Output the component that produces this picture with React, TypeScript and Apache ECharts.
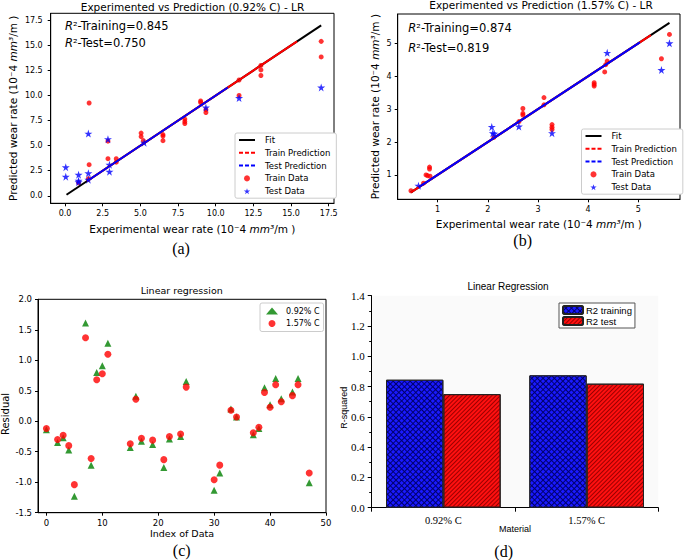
import React, { useEffect, useRef } from 'react';
import * as echarts from 'echarts';

const FONT = 'DejaVu Sans';
const SERIF = 'Liberation Serif';
const ARIAL = 'Liberation Sans';

// ---------- Panel (a): 0.92% C ----------
const titleA = 'Experimented vs Prediction (0.92% C) - LR';
const ticksA = [0, 2.5, 5, 7.5, 10, 12.5, 15, 17.5];
const fitA = [0.1, 17.0];
const trainPredA = [1.45, 15.4];
const testPredA = [1.45, 10.8];
const trainDataA = [
  [1.6, 9.25], [1.6, 3.1], [1.55, 1.7], [0.9, 1.3], [2.85, 5.45], [2.85, 3.7],
  [3.4, 3.7], [3.4, 3.35], [5.05, 6.25], [5.05, 5.9], [5.2, 5.5], [6.5, 6.1],
  [6.5, 5.95], [6.5, 5.5], [7.95, 7.65], [7.95, 7.4], [7.95, 7.2], [9.0, 9.45],
  [9.0, 9.3], [9.35, 8.6], [9.35, 8.3], [11.55, 11.55], [11.55, 10.0], [13.0, 13.0],
  [13.0, 12.55], [13.0, 12.0], [17.0, 15.4], [17.0, 13.85],
];
const testDataA = [
  [0.05, 2.85], [0.05, 1.9], [0.9, 2.1], [0.9, 1.5], [0.9, 1.35], [1.55, 6.2],
  [1.55, 2.25], [1.55, 1.6], [2.85, 5.65], [2.95, 3.1], [2.95, 2.4], [5.25, 5.3],
  [9.35, 8.8], [11.55, 9.75], [17.0, 10.8],
];

// ---------- Panel (b): 1.57% C ----------
const titleB = 'Experimented vs Prediction (1.57% C) - LR';
const ticksB = [1, 2, 3, 4, 5];
const fitB = [0.47, 5.62];
const trainPredB = [0.47, 5.25];
const testPredB = [0.62, 5.03];
const trainDataB = [
  [0.47, 0.52], [0.72, 0.75], [0.77, 1.0], [0.8, 0.98], [0.84, 1.24], [0.84, 1.18],
  [0.85, 0.96], [2.12, 2.14], [2.62, 2.62], [2.7, 3.02], [2.7, 2.87], [2.7, 2.82],
  [3.12, 3.35], [3.12, 3.13], [3.28, 2.53], [3.28, 2.45], [3.28, 2.38], [4.12, 3.8],
  [4.12, 3.75], [4.12, 3.7], [4.33, 4.13], [4.35, 4.35], [4.38, 4.46], [5.46, 4.53],
  [5.62, 5.27],
];
const testDataB = [
  [0.62, 0.67], [2.08, 2.46], [2.1, 2.27], [2.13, 2.25], [2.62, 2.47], [3.28, 2.27],
  [4.38, 4.71], [5.46, 4.19], [5.62, 5.0],
];

// ---------- Panel (c): residuals ----------
const titleC = 'Linear regression';
const ticksCx = [0, 10, 20, 30, 40, 50];
const residualIndex = [0, 2, 3, 4, 5, 7, 8, 9, 10, 11, 15, 16, 17, 19, 21, 22, 24, 25, 30, 31, 33, 34, 37, 38, 39, 40, 41, 42, 44, 45, 47];
const res092 = [-0.14, -0.35, -0.27, -0.47, -1.23, 1.61, -0.72, 0.80, 0.91, 1.28, -0.43, 0.41, -0.33, -0.38, -0.76, -0.29, -0.25, 0.65, -1.13, -0.85, 0.20, 0.07, -0.22, -0.12, 0.55, 0.27, 0.70, 0.37, 0.48, 0.70, -1.01];
const res157 = [-0.12, -0.30, -0.23, -0.40, -1.04, 1.37, -0.61, 0.68, 0.78, 1.10, -0.37, 0.36, -0.28, -0.31, -0.63, -0.25, -0.21, 0.56, -0.96, -0.72, 0.18, 0.07, -0.19, -0.10, 0.47, 0.23, 0.60, 0.32, 0.42, 0.60, -0.85];

// ---------- Panel (d): R-squared bars ----------
const titleD = 'Linear Regression';
const materials = ['0.92% C', '1.57% C'];
const r2Training = [0.845, 0.874];
const r2Test = [0.750, 0.819];

const starPath = 'path://M50,0 L61.2,34.5 L97.6,34.5 L68.2,55.9 L79.4,90.5 L50,69.1 L20.6,90.5 L31.8,55.9 L2.4,34.5 L38.8,34.5 Z';

const RED = '#ff0000';
const BLUE = '#0000ff';
const GREEN = '#008000';

const unitName = (prefix: string) => `{n|${prefix} (10⁻4 }{i|mm³}{n|/m )}`;
const nameStyle = (size: number) => ({
  color: '#000', fontFamily: FONT, fontSize: size,
  rich: {
    n: { color: '#000', fontFamily: FONT, fontSize: size },
    i: { color: '#000', fontFamily: FONT, fontSize: size, fontStyle: 'italic' },
  },
});

const mplAxis = (gridIndex: number, min: number, max: number, ticks: number[], fmt: (v: number) => string, extra: any = {}) => ({
  type: 'value',
  gridIndex,
  min,
  max,
  nameMoveOverlap: false,
  axisLine: { show: true, onZero: false, lineStyle: { color: '#000', width: 1 } },
  axisTick: { show: true, inside: false, length: 3, lineStyle: { color: '#000', width: 1 }, customValues: ticks },
  axisLabel: { show: true, customValues: ticks, formatter: fmt, color: '#000', fontFamily: FONT, fontSize: 8, margin: 6 },
  splitLine: { show: false },
  ...extra,
});

const txt = (x: number, y: number, text: string, font: string, align = 'center', rich?: any) => ({
  type: 'text',
  x,
  y,
  silent: true,
  style: {
    text,
    font,
    fill: '#000',
    align,
    verticalAlign: 'middle',
    textAlign: align,
    textVerticalAlign: 'middle',
    ...(rich ? { rich } : {}),
  },
});

const r2Rich = {
  i: { font: `italic 11.5px "${FONT}"`, fill: '#000', color: '#000' },
  n: { font: `11.5px "${FONT}"`, fill: '#000', color: '#000' },
};

const lineLegend = (left: number, top: number) => ({
  left,
  top,
  orient: 'vertical',
  backgroundColor: '#fff',
  borderColor: '#cccccc',
  borderWidth: 1,
  borderRadius: 2,
  padding: [2, 6, 2, 3],
  itemGap: 2.8,
  itemWidth: 16,
  itemHeight: 6,
  selectedMode: false,
  textStyle: { color: '#000', fontFamily: FONT, fontSize: 8.5, lineHeight: 10, padding: [0, 0, 0, 5] },
  data: [
    { name: 'Fit', itemStyle: { opacity: 0 } },
    { name: 'Train Prediction', itemStyle: { opacity: 0 }, lineStyle: { type: [4, 2] } },
    { name: 'Test Prediction', itemStyle: { opacity: 0 }, lineStyle: { type: [4, 2] } },
    { name: 'Train Data' },
    { name: 'Test Data' },
  ],
});

const predictionSeries = (idx: number, fit: number[], trainPred: number[], testPred: number[], trainData: number[][], testData: number[][]) => [
  { name: 'Fit', type: 'line', xAxisIndex: idx, yAxisIndex: idx, data: fit.map((v) => [v, v]), symbol: 'none', lineStyle: { color: '#000', width: 2 }, itemStyle: { color: '#000' } },
  { name: 'Train Prediction', type: 'line', xAxisIndex: idx, yAxisIndex: idx, data: trainPred.map((v) => [v, v]), symbol: 'none', lineStyle: { color: RED, width: 2 }, itemStyle: { color: RED } },
  { name: 'Test Prediction', type: 'line', xAxisIndex: idx, yAxisIndex: idx, data: testPred.map((v) => [v, v]), symbol: 'none', lineStyle: { color: BLUE, width: 2 }, itemStyle: { color: BLUE } },
  { name: 'Train Data', type: 'scatter', xAxisIndex: idx, yAxisIndex: idx, data: trainData, symbol: 'circle', symbolSize: 5, itemStyle: { color: RED } },
  { name: 'Test Data', type: 'scatter', xAxisIndex: idx, yAxisIndex: idx, data: testData, symbol: starPath, symbolSize: 8, itemStyle: { color: BLUE } },
];

export default function App() {
  const ref = useRef<HTMLDivElement>(null);
  useEffect(() => {
    if (!ref.current) return;
    const chart = echarts.init(ref.current, null, { renderer: 'svg' });
    const f1 = (v: number) => v.toFixed(1);
    const f0 = (v: number) => String(v);
    const option: any = {
      animation: false,
      backgroundColor: '#fff',
      grid: [
        { left: 50.7, top: 13.3, width: 283.3, height: 190, show: true, borderColor: '#000', borderWidth: 1, backgroundColor: 'transparent', outerBoundsMode: 'none' },
        { left: 397.7, top: 14, width: 282.3, height: 185.3, show: true, borderColor: '#000', borderWidth: 1, backgroundColor: 'transparent', outerBoundsMode: 'none' },
        { left: 38, top: 299.3, width: 288, height: 213.4, show: true, borderColor: '#000', borderWidth: 1, backgroundColor: 'transparent', outerBoundsMode: 'none' },
        { left: 371.7, top: 295.7, width: 286.6, height: 212, show: true, borderWidth: 0, backgroundColor: '#fafafa', outerBoundsMode: 'none' },
      ],
      xAxis: [
        mplAxis(0, -0.95, 17.85, ticksA, f1, {
          name: unitName('Experimental wear rate'), nameLocation: 'middle', nameGap: 20, nameTextStyle: nameStyle(10.5),
        }),
        mplAxis(1, 0.206, 5.83, ticksB, f0, {
          name: unitName('Experimental wear rate'), nameLocation: 'middle', nameGap: 19, nameTextStyle: nameStyle(10.5),
        }),
        mplAxis(2, -1.5, 50, ticksCx, f0, {
          name: 'Index of Data', nameLocation: 'middle', nameGap: 16, nameTextStyle: { color: '#000', fontFamily: FONT, fontSize: 9.5 },
          axisLabel: { show: true, customValues: ticksCx, formatter: f0, color: '#000', fontFamily: FONT, fontSize: 8.5, margin: 6 },
        }),
        {
          type: 'category', gridIndex: 3, data: materials, nameMoveOverlap: false,
          name: 'Material', nameLocation: 'middle', nameGap: 17, nameTextStyle: { color: '#000', fontFamily: ARIAL, fontSize: 9 },
          axisLine: { show: true, lineStyle: { color: '#000', width: 1 } },
          axisTick: { show: true, inside: false, length: 4, alignWithLabel: false, lineStyle: { color: '#000' } },
          axisLabel: { color: '#000', fontFamily: SERIF, fontSize: 10.5, margin: 7, interval: 0 },
          splitLine: { show: false },
        },
      ],
      yAxis: [
        mplAxis(0, -0.75, 18.2, ticksA, f1, {
          name: unitName('Predicted wear rate'), nameLocation: 'middle', nameGap: 32, nameTextStyle: nameStyle(10.5),
          axisLabel: { show: true, customValues: ticksA, formatter: f1, color: '#000', fontFamily: FONT, fontSize: 8, margin: 8 },
        }),
        mplAxis(1, 0.26, 5.89, ticksB, f0, {
          name: unitName('Predicted wear rate'), nameLocation: 'middle', nameGap: 17, nameTextStyle: nameStyle(10.5),
        }),
        {
          type: 'value', gridIndex: 2, min: -1.5, max: 2.0, interval: 0.5, nameMoveOverlap: false,
          name: 'Residual', nameLocation: 'middle', nameGap: 28, nameTextStyle: { color: '#000', fontFamily: FONT, fontSize: 10, padding: [0, 16, 0, 0] },
          axisLine: { show: true, onZero: false, lineStyle: { color: '#000', width: 1 } },
          axisTick: { show: true, inside: false, length: 3, lineStyle: { color: '#000' } },
          axisLabel: { color: '#000', fontFamily: FONT, fontSize: 8.5, margin: 6, formatter: f1 },
          splitLine: { show: false },
        },
        {
          type: 'value', gridIndex: 3, min: 0, max: 1.4, interval: 0.2, nameMoveOverlap: false,
          name: 'R-squared', nameLocation: 'middle', nameGap: 23, nameTextStyle: { color: '#000', fontFamily: ARIAL, fontSize: 9, padding: [0, 12, 0, 0] },
          axisLine: { show: true, onZero: false, lineStyle: { color: '#000', width: 1 } },
          axisTick: { show: true, inside: false, length: 4, lineStyle: { color: '#000' } },
          minorTick: { show: true, splitNumber: 2, length: 2.5, lineStyle: { color: '#000' } },
          axisLabel: { color: '#000', fontFamily: SERIF, fontSize: 11, margin: 7, formatter: f1 },
          splitLine: { show: false },
          minorSplitLine: { show: false },
        },
      ],
      legend: [
        lineLegend(235, 133),
        lineLegend(581.5, 129),
        {
          left: 260, top: 303, orient: 'vertical', backgroundColor: '#fff', borderColor: '#cccccc', borderWidth: 1, borderRadius: 2,
          padding: [3, 4, 3, 6], itemGap: 2.5, itemWidth: 12, itemHeight: 7, selectedMode: false,
          textStyle: { color: '#000', fontFamily: FONT, fontSize: 8, lineHeight: 10, padding: [0, 0, 0, 3] },
          data: ['0.92% C', '1.57% C'],
        },
        {
          left: 559, top: 303, orient: 'vertical', backgroundColor: '#fff', borderColor: '#555', borderWidth: 1, borderRadius: 0,
          padding: [2, 3, 2, 3], itemGap: 1, itemWidth: 20, itemHeight: 8, selectedMode: false,
          textStyle: { color: '#000', fontFamily: ARIAL, fontSize: 9.5, lineHeight: 10, padding: [0, 0, 0, -2] },
          data: ['R2 training', 'R2 test'],
        },
      ],
      series: [
        ...predictionSeries(0, fitA, trainPredA, testPredA, trainDataA, testDataA),
        ...predictionSeries(1, fitB, trainPredB, testPredB, trainDataB, testDataB),
        {
          name: '0.92% C', type: 'scatter', xAxisIndex: 2, yAxisIndex: 2, symbol: 'triangle', symbolSize: 7,
          data: residualIndex.map((x, i) => [x, res092[i]]), itemStyle: { color: GREEN },
        },
        {
          name: '1.57% C', type: 'scatter', xAxisIndex: 2, yAxisIndex: 2, symbol: 'circle', symbolSize: 7,
          data: residualIndex.map((x, i) => [x, res157[i]]), itemStyle: { color: RED },
        },
        {
          name: 'R2 training', type: 'bar', xAxisIndex: 3, yAxisIndex: 3, data: r2Training, barGap: '0%', barCategoryGap: '20%',
          itemStyle: {
            color: '#00006e', borderColor: '#222', borderWidth: 1,
            decal: { symbol: 'rect', symbolSize: 1, dashArrayX: [3, 1], dashArrayY: [3, 1], rotation: Math.PI / 4, color: '#1a1aff' },
          },
        },
        {
          name: 'R2 test', type: 'bar', xAxisIndex: 3, yAxisIndex: 3, data: r2Test, barGap: '0%', barCategoryGap: '20%',
          itemStyle: {
            color: '#ff1010', borderColor: '#222', borderWidth: 1,
            decal: { symbol: 'rect', symbolSize: 1, dashArrayX: [1, 0], dashArrayY: [1, 2], rotation: -Math.PI / 4, color: '#9a0000' },
          },
        },
      ],
      graphic: {
        elements: [
          txt(192.5, 6.7, titleA, `10.5px "${FONT}"`),
          txt(541, 5, titleB, `10.5px "${FONT}"`),
          txt(181.7, 290.7, titleC, `9.5px "${FONT}"`),
          txt(508, 286, titleD, `10px "${ARIAL}"`),
          txt(65, 26, `{i|R}{n|²-Training=${r2Training[0].toFixed(3)}}`, `11.5px "${FONT}"`, 'left', r2Rich),
          txt(65, 43.3, `{i|R}{n|²-Test=${r2Test[0].toFixed(3)}}`, `11.5px "${FONT}"`, 'left', r2Rich),
          txt(408.3, 28, `{i|R}{n|²-Training=${r2Training[1].toFixed(3)}}`, `11.5px "${FONT}"`, 'left', r2Rich),
          txt(408.3, 47.7, `{i|R}{n|²-Test=${r2Test[1].toFixed(3)}}`, `11.5px "${FONT}"`, 'left', r2Rich),
          txt(181, 248.3, '(a)', `16px "${SERIF}"`),
          txt(522.7, 240.8, '(b)', `16px "${SERIF}"`),
          txt(181.7, 550.5, '(c)', `16px "${SERIF}"`),
          txt(503.7, 551.3, '(d)', `16px "${SERIF}"`),
        ],
      },
    };
    chart.setOption(option);
    return () => chart.dispose();
  }, []);
  return <div ref={ref} style={{ position: 'absolute', left: 0, top: 0, width: 685, height: 560 }} />;
}
